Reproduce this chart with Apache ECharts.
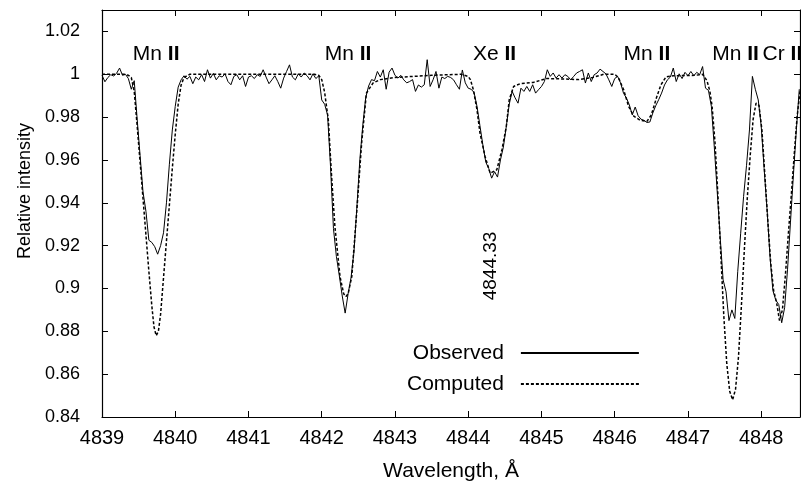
<!DOCTYPE html>
<html>
<head>
<meta charset="utf-8">
<title>Mn II / Xe II spectrum</title>
<script src="https://cdn.jsdelivr.net/npm/echarts@6/dist/echarts.min.js"></script>
<style>
  html, body { margin: 0; padding: 0; background: #fff; }
  #chart { width: 801px; height: 487px; }
</style>
</head>
<body>
<div id="chart"></div>
<script>
  // observed spectrum: uniform sampling, 0.04 A per pixel
  const obsStart = 4839.00;
  const obsStep = 0.04;
  const observedFlux = [
    0.9995, 0.9965, 0.9985, 0.9998, 0.9992, 1.0005, 1.0029, 0.9995, 1.0000, 0.9980,
    0.9930, 0.9970, 0.9790, 0.9620, 0.9450, 0.9360, 0.9225, 0.9215, 0.9195, 0.9160,
    0.9200, 0.9260, 0.9400, 0.9580, 0.9740, 0.9850, 0.9940, 0.9974, 0.9993, 0.9977,
    0.9990, 0.9956, 0.9987, 0.9974, 0.9998, 0.9966, 1.0021, 0.9982, 1.0004, 0.9974,
    0.9993, 0.9987, 1.0002, 0.9966, 0.9951, 0.9990, 0.9998, 0.9974, 0.9993, 0.9943,
    0.9987, 0.9993, 0.9980, 0.9998, 0.9990, 1.0021, 0.9987, 0.9956, 0.9974, 0.9993,
    0.9966, 0.9935, 0.9982, 1.0013, 1.0044, 0.9987, 0.9974, 1.0002, 0.9987, 1.0006,
    0.9993, 0.9974, 1.0002, 0.9980, 0.9993, 0.9880, 0.9860, 0.9810, 0.9570, 0.9280,
    0.9150, 0.9060, 0.8965, 0.8885, 0.8975, 0.9050, 0.9170, 0.9380, 0.9600, 0.9760,
    0.9890, 0.9945, 0.9975, 0.9970, 1.0013, 0.9987, 1.0021, 0.9930, 1.0010, 1.0029,
    0.9995, 0.9982, 0.9995, 0.9974, 0.9960, 0.9966, 0.9975, 0.9920, 0.9950, 0.9940,
    0.9951, 1.0068, 0.9943, 0.9974, 1.0013, 0.9935, 0.9987, 0.9980, 0.9990, 0.9985,
    0.9974, 0.9951, 0.9930, 1.0020, 0.9960, 0.9935, 0.9930, 0.9915, 0.9850, 0.9760,
    0.9670, 0.9590, 0.9560, 0.9515, 0.9545, 0.9520, 0.9600, 0.9660, 0.9756, 0.9860,
    0.9920, 0.9890, 0.9865, 0.9935, 0.9920, 0.9943, 0.9920, 0.9951, 0.9912, 0.9928,
    0.9943, 0.9966, 1.0021, 0.9990, 1.0006, 0.9982, 0.9998, 0.9982, 0.9998, 0.9990,
    0.9974, 0.9990, 1.0006, 1.0013, 1.0021, 0.9959, 1.0006, 0.9966, 0.9998, 1.0006,
    1.0024, 1.0013, 1.0002, 0.9974, 0.9943, 0.9980, 0.9990, 0.9960, 0.9912, 0.9889,
    0.9857, 0.9810, 0.9847, 0.9806, 0.9790, 0.9785, 0.9775, 0.9777, 0.9819, 0.9853,
    0.9881, 0.9912, 0.9950, 0.9974, 0.9987, 1.0029, 0.9966, 1.0002, 0.9980, 1.0009,
    0.9993, 1.0013, 0.9993, 1.0009, 0.9998, 1.0036, 0.9935, 0.9925, 0.9850, 0.9660,
    0.9450, 0.9240, 0.9040, 0.8985, 0.8850, 0.8900, 0.8860, 0.9080, 0.9258, 0.9430,
    0.9575, 0.9740, 0.9990, 0.9930, 0.9880, 0.9760, 0.9560, 0.9370, 0.9150, 0.8990,
    0.8945, 0.8925, 0.8840, 0.8910, 0.9090, 0.9310, 0.9530, 0.9740, 0.9930
  ];

  // synthetic spectrum
  const computedWl = [
    4839.00, 4839.30, 4839.36, 4839.40, 4839.44, 4839.48, 4839.52, 4839.56, 4839.60, 4839.64,
    4839.68, 4839.71, 4839.74, 4839.77, 4839.80, 4839.84, 4839.88, 4839.92, 4839.96, 4840.00,
    4840.04, 4840.08, 4840.12, 4840.20, 4841.90, 4841.96, 4842.00, 4842.04, 4842.09, 4842.135,
    4842.18, 4842.25, 4842.30, 4842.33, 4842.36, 4842.41, 4842.48, 4842.545, 4842.61, 4842.70,
    4842.80, 4843.00, 4843.50, 4843.90, 4844.00, 4844.03, 4844.07, 4844.12, 4844.16, 4844.23,
    4844.30, 4844.32, 4844.39, 4844.46, 4844.52, 4844.56, 4844.62, 4844.71, 4844.89, 4845.07,
    4845.30, 4845.50, 4845.70, 4845.85, 4846.00, 4846.05, 4846.12, 4846.19, 4846.26, 4846.35,
    4846.44, 4846.50, 4846.57, 4846.63, 4846.70, 4846.80, 4847.10, 4847.20, 4847.26, 4847.30,
    4847.33, 4847.37, 4847.41, 4847.45, 4847.49, 4847.53, 4847.57, 4847.61, 4847.65, 4847.69,
    4847.73, 4847.77, 4847.81, 4847.85, 4847.89, 4847.93, 4847.97, 4848.01, 4848.05, 4848.09,
    4848.13, 4848.17, 4848.21, 4848.25, 4848.29, 4848.33, 4848.37, 4848.41, 4848.45, 4848.49,
    4848.53
  ];
  const computedFlux = [
    1.0000, 1.0000, 0.9995, 0.9985, 0.9920, 0.9760, 0.9590, 0.9420, 0.9250, 0.9080,
    0.8920, 0.8820, 0.8780, 0.8800, 0.8880, 0.9050, 0.9220, 0.9390, 0.9560, 0.9720,
    0.9860, 0.9950, 0.9985, 1.0000, 1.0000, 0.9995, 0.9975, 0.9915, 0.9787, 0.9522,
    0.9289, 0.9055, 0.8975, 0.8962, 0.8975, 0.9055, 0.9367, 0.9679, 0.9912, 0.9959,
    0.9975, 0.9985, 0.9995, 1.0000, 0.9990, 0.9975, 0.9928, 0.9834, 0.9727, 0.9616,
    0.9538, 0.9530, 0.9554, 0.9647, 0.9756, 0.9881, 0.9943, 0.9956, 0.9962, 0.9980,
    0.9978, 0.9975, 0.9985, 1.0000, 1.0000, 0.9985, 0.9930, 0.9850, 0.9805, 0.9785,
    0.9780, 0.9810, 0.9890, 0.9950, 0.9988, 0.9993, 0.9995, 1.0000, 0.9970, 0.9920,
    0.9850, 0.9680, 0.9430, 0.9150, 0.8870, 0.8650, 0.8520, 0.8480, 0.8530, 0.8680,
    0.8920, 0.9180, 0.9420, 0.9620, 0.9790, 0.9865, 0.9855, 0.9740, 0.9530, 0.9320,
    0.9120, 0.8990, 0.8935, 0.8850, 0.8900, 0.9060, 0.9250, 0.9430, 0.9620, 0.9800,
    0.9920
  ];

  // line identifications
  const lineLabels = ['Mn II', 'Mn II', 'Xe II', 'Mn II', 'Mn II', 'Cr II'];
  const lineLabelWl = [4839.74, 4842.36, 4844.36, 4846.44, 4847.65, 4848.29];
  const lineLabelFlux = 1.0093;
  const xeMark = { text: '4844.33', wl: 4844.31, flux: 0.9105 };

  const xTicks = { min: 4839, max: 4848.53, step: 1 };
  const yTicks = { min: 0.84, max: 1.03, step: 0.02 };

  const font = 'Liberation Sans, Arial, sans-serif';

  const observed = observedFlux.map(function (f, i) {
    return [+(obsStart + i * obsStep).toFixed(2), f];
  });
  const computed = computedWl.map(function (w, i) {
    return [w, computedFlux[i]];
  });

  const markData = lineLabels.map(function (t, i) {
    const parts = t.split(' ');
    return {
      coord: [lineLabelWl[i], lineLabelFlux],
      label: { formatter: '{n|' + parts[0] + ' }{b|' + parts[1] + '}' }
    };
  });
  markData.push({
    coord: [xeMark.wl, xeMark.flux],
    label: { formatter: xeMark.text, rotate: 90, fontSize: 19 }
  });

  const axisLine = { show: true, lineStyle: { color: '#000', width: 1.2 } };
  const axisTick = { show: true, inside: true, length: 6, lineStyle: { color: '#000', width: 1 } };

  const chart = echarts.init(document.getElementById('chart'), null, { renderer: 'canvas' });
  chart.setOption({
    animation: false,
    backgroundColor: '#fff',
    textStyle: { fontFamily: font },
    grid: { left: 102, right: 1, top: 10, bottom: 70, containLabel: false },
    legend: {
      data: ['Observed', 'Computed'],
      orient: 'vertical',
      left: 407,
      top: 342,
      align: 'right',
      itemWidth: 118,
      itemHeight: 14,
      itemGap: 9,
      padding: 0,
      itemStyle: { opacity: 0 },
      textStyle: { fontFamily: font, fontSize: 21, color: '#000', lineHeight: 22, padding: [0, 12, 0, 0] }
    },
    graphic: [{
      type: 'text',
      x: 25,
      y: 191,
      rotation: Math.PI / 2,
      style: {
        text: 'Relative intensity',
        fontFamily: font,
        fontSize: 18,
        fill: '#000',
        align: 'center',
        verticalAlign: 'middle'
      }
    }],
    xAxis: [{
      type: 'value',
      min: xTicks.min,
      max: xTicks.max,
      interval: xTicks.step,
      name: 'Wavelength, Å',
      nameLocation: 'middle',
      nameGap: 44,
      nameTextStyle: { fontFamily: font, fontSize: 21, color: '#000' },
      axisLine: axisLine,
      axisTick: axisTick,
      splitLine: { show: false },
      axisLabel: {
        fontFamily: font, fontSize: 20, color: '#000', margin: 11, showMaxLabel: false,
        formatter: function (v) { return String(v); }
      }
    }, {
      type: 'value',
      position: 'top',
      min: xTicks.min,
      max: xTicks.max,
      interval: xTicks.step,
      axisLine: axisLine,
      axisTick: axisTick,
      splitLine: { show: false },
      axisLabel: { show: false }
    }],
    yAxis: [{
      type: 'value',
      min: yTicks.min,
      max: yTicks.max,
      interval: yTicks.step,
      axisLine: axisLine,
      axisTick: axisTick,
      splitLine: { show: false },
      axisLabel: {
        fontFamily: font, fontSize: 18, color: '#000', margin: 22, showMaxLabel: false,
        formatter: function (v) { return String(+v.toFixed(2)); }
      }
    }, {
      type: 'value',
      position: 'right',
      min: yTicks.min,
      max: yTicks.max,
      interval: yTicks.step,
      axisLine: axisLine,
      axisTick: axisTick,
      splitLine: { show: false },
      axisLabel: { show: false }
    }],
    series: [{
      name: 'Observed',
      type: 'line',
      data: observed,
      symbol: 'none',
      lineStyle: { color: '#000', width: 1 },
      itemStyle: { color: '#000' },
      z: 3,
      markPoint: {
        symbol: 'circle',
        symbolSize: 2,
        itemStyle: { color: 'rgba(0,0,0,0)' },
        label: {
          show: true,
          position: 'inside',
          color: '#000',
          fontFamily: font,
          fontSize: 21,
          rich: {
            n: { fontFamily: font, fontSize: 21, color: '#000' },
            b: { fontFamily: font, fontSize: 21, color: '#000', fontWeight: 'bold' }
          }
        },
        data: markData
      }
    }, {
      name: 'Computed',
      type: 'line',
      data: computed,
      symbol: 'none',
      lineStyle: { color: '#000', width: 1.5, type: [3, 2] },
      itemStyle: { color: '#000' },
      z: 2
    }]
  });
</script>
</body>
</html>
